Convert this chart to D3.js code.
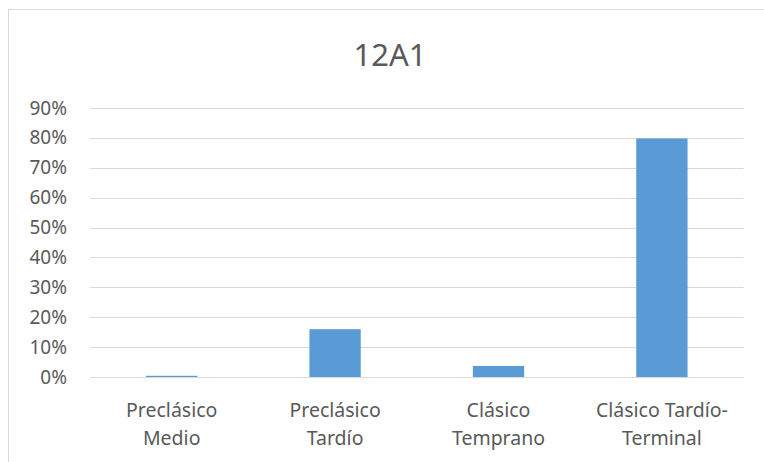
<!DOCTYPE html>
<html>
<head>
<meta charset="utf-8">
<script src="https://cdn.jsdelivr.net/npm/d3@7"></script>
<style>
  html, body { margin: 0; padding: 0; background: #fff; }
  svg { display: block; }
</style>
</head>
<body>
<svg id="chart" width="764" height="462"></svg>
<script>
const title = "12A1";
const categories = [["Preclásico", "Medio"], ["Preclásico", "Tardío"], ["Clásico", "Temprano"], ["Clásico Tardío-", "Terminal"]];
const values = [0.004, 0.16, 0.037, 0.798];
const tickValues = [0, 0.1, 0.2, 0.3, 0.4, 0.5, 0.6, 0.7, 0.8, 0.9];

const font = "'Noto Sans', sans-serif";
const textColor = "#595959";
const svg = d3.select("#chart");

// chart border
svg.append("rect").attr("x", 8.5).attr("y", 9.5).attr("width", 770).attr("height", 470)
  .attr("fill", "#fff").attr("stroke", "#d9d9d9").attr("stroke-width", 1);

const plot = { left: 90, right: 743.6, top: 108, bottom: 377 };

const x = d3.scaleBand().domain(d3.range(categories.length))
  .range([plot.left, plot.right]).paddingInner(0.686).paddingOuter(0.343);
const y = d3.scaleLinear().domain([0, 0.9]).range([plot.bottom, plot.top]);

// gridlines
svg.append("g").selectAll("line").data(tickValues).join("line")
  .attr("x1", plot.left).attr("x2", plot.right)
  .attr("y1", d => Math.round(y(d)) + 0.5).attr("y2", d => Math.round(y(d)) + 0.5)
  .attr("stroke", "#d9d9d9").attr("stroke-width", 1);

// y axis labels
const yAxis = d3.axisLeft(y).tickValues(tickValues).tickFormat(d3.format(".0%")).tickSize(0).tickPadding(0);
const yg = svg.append("g").attr("transform", `translate(67,0)`).call(yAxis);
yg.select(".domain").remove();
yg.selectAll("text").attr("fill", textColor).style("font-family", font).style("font-size", "19px");

// bars
svg.append("g").selectAll("rect").data(values).join("rect")
  .attr("x", (d, i) => x(i)).attr("width", x.bandwidth())
  .attr("y", d => y(d)).attr("height", d => y(0) - y(d))
  .attr("fill", "#5b9bd5");

// x axis line
svg.append("line").attr("x1", plot.left).attr("x2", plot.right)
  .attr("y1", Math.round(y(0)) + 0.5).attr("y2", Math.round(y(0)) + 0.5)
  .attr("stroke", "#d9d9d9").attr("stroke-width", 1);

// category labels
const xg = svg.append("g");
categories.forEach((lines, i) => {
  const t = xg.append("text").attr("text-anchor", "middle")
    .attr("fill", textColor).style("font-family", font).style("font-size", "19.5px");
  lines.forEach((ln, j) => {
    t.append("tspan").attr("x", x(i) + x.bandwidth() / 2).attr("y", 417 + j * 27.5).text(ln);
  });
});

// title
svg.append("text").attr("x", 390).attr("y", 66).attr("text-anchor", "middle")
  .attr("fill", textColor).style("font-family", font).style("font-size", "31px").text(title);
</script>
</body>
</html>
